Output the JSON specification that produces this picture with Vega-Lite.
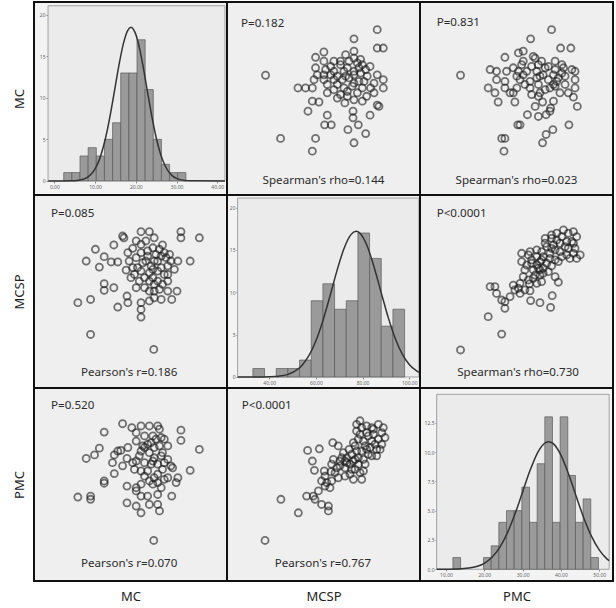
{
"$schema":"https://vega.github.io/schema/vega-lite/v6.json",
"background":"white",
"padding":{"left":12,"top":1,"right":2,"bottom":2},
"columns":3,
"spacing":0,
"bounds":"flush",
"config":{"font":"Noto Sans","view":{"stroke":null}},
"datasets":{
"pairA":[{"MC":14.2,"MCSP":94.3},{"MC":14.5,"MCSP":93.4},{"MC":18.4,"MCSP":96.6},{"MC":20.3,"MCSP":96.6},{"MC":21.4,"MCSP":93.4},{"MC":27.5,"MCSP":96.6},{"MC":27.5,"MCSP":93.4},{"MC":31.7,"MCSP":93.4},{"MC":12.2,"MCSP":89.6},{"MC":8.0,"MCSP":87.3},{"MC":17.3,"MCSP":91.7},{"MC":18.4,"MCSP":89.9},{"MC":19.5,"MCSP":91.7},{"MC":23.3,"MCSP":89.6},{"MC":21.1,"MCSP":88.1},{"MC":5.9,"MCSP":81.1},{"MC":8.9,"MCSP":77.9},{"MC":10.0,"MCSP":83.4},{"MC":11.6,"MCSP":80.6},{"MC":13.1,"MCSP":80.6},{"MC":15.4,"MCSP":85.5},{"MC":16.5,"MCSP":87.8},{"MC":17.3,"MCSP":82.9},{"MC":15.7,"MCSP":81.1},{"MC":15.0,"MCSP":76.3},{"MC":18.4,"MCSP":85.5},{"MC":19.9,"MCSP":86.4},{"MC":21.8,"MCSP":84.6},{"MC":23.0,"MCSP":83.7},{"MC":24.1,"MCSP":82.9},{"MC":23.7,"MCSP":85.5},{"MC":24.9,"MCSP":84.6},{"MC":26.8,"MCSP":81.1},{"MC":29.6,"MCSP":81.1},{"MC":17.6,"MCSP":77.6},{"MC":18.4,"MCSP":75.8},{"MC":19.5,"MCSP":81.1},{"MC":20.7,"MCSP":78.5},{"MC":21.4,"MCSP":81.1},{"MC":22.2,"MCSP":75.8},{"MC":24.5,"MCSP":78.5},{"MC":25.2,"MCSP":81.1},{"MC":26.0,"MCSP":76.7},{"MC":16.9,"MCSP":74.0},{"MC":19.2,"MCSP":72.3},{"MC":21.1,"MCSP":72.3},{"MC":22.2,"MCSP":70.5},{"MC":23.7,"MCSP":74.0},{"MC":24.5,"MCSP":70.5},{"MC":10.0,"MCSP":69.1},{"MC":10.0,"MCSP":65.6},{"MC":12.2,"MCSP":67.0},{"MC":17.3,"MCSP":67.0},{"MC":19.2,"MCSP":67.0},{"MC":20.3,"MCSP":65.2},{"MC":21.4,"MCSP":65.2},{"MC":22.6,"MCSP":66.1},{"MC":24.5,"MCSP":65.2},{"MC":26.6,"MCSP":65.2},{"MC":6.9,"MCSP":60.8},{"MC":4.0,"MCSP":59.1},{"MC":15.2,"MCSP":62.6},{"MC":13.1,"MCSP":56.8},{"MC":15.4,"MCSP":59.1},{"MC":18.4,"MCSP":59.1},{"MC":20.3,"MCSP":60.0},{"MC":21.4,"MCSP":61.7},{"MC":23.0,"MCSP":60.8},{"MC":25.4,"MCSP":60.8},{"MC":18.4,"MCSP":55.5},{"MC":18.4,"MCSP":51.5},{"MC":6.9,"MCSP":42.3},{"MC":21.3,"MCSP":34.4},{"MC":22.2,"MCSP":81.1},{"MC":23.0,"MCSP":77.6},{"MC":20.3,"MCSP":74.9},{"MC":21.4,"MCSP":68.8},{"MC":23.3,"MCSP":68.8},{"MC":18.0,"MCSP":70.5},{"MC":16.5,"MCSP":77.6},{"MC":19.9,"MCSP":83.7},{"MC":22.6,"MCSP":87.3},{"MC":24.5,"MCSP":74.0},{"MC":18.8,"MCSP":80.2},{"MC":16.1,"MCSP":72.3},{"MC":21.1,"MCSP":76.7},{"MC":20.3,"MCSP":70.5}],
"pairB":[{"MC":14.2,"PMC":48.9},{"MC":10.0,"PMC":46.3},{"MC":16.3,"PMC":47.7},{"MC":18.4,"PMC":48.2},{"MC":20.3,"PMC":48.2},{"MC":22.2,"PMC":48.2},{"MC":22.6,"PMC":47.2},{"MC":27.5,"PMC":46.9},{"MC":27.5,"PMC":43.7},{"MC":31.7,"PMC":40.9},{"MC":17.3,"PMC":46.1},{"MC":19.2,"PMC":45.1},{"MC":21.1,"PMC":45.1},{"MC":21.8,"PMC":44.1},{"MC":23.0,"PMC":44.6},{"MC":23.7,"PMC":44.1},{"MC":5.9,"PMC":38.1},{"MC":7.8,"PMC":39.2},{"MC":8.9,"PMC":41.3},{"MC":12.3,"PMC":39.2},{"MC":13.1,"PMC":40.4},{"MC":13.8,"PMC":40.6},{"MC":15.4,"PMC":41.5},{"MC":15.2,"PMC":38.1},{"MC":11.9,"PMC":36.8},{"MC":17.3,"PMC":43.5},{"MC":18.8,"PMC":42.0},{"MC":19.2,"PMC":41.5},{"MC":19.9,"PMC":42.5},{"MC":21.4,"PMC":41.5},{"MC":22.6,"PMC":42.0},{"MC":24.5,"PMC":42.0},{"MC":18.4,"PMC":40.4},{"MC":20.3,"PMC":39.9},{"MC":21.4,"PMC":38.3},{"MC":23.0,"PMC":38.9},{"MC":24.5,"PMC":37.8},{"MC":25.2,"PMC":35.8},{"MC":17.3,"PMC":37.3},{"MC":19.2,"PMC":36.8},{"MC":21.1,"PMC":37.3},{"MC":22.2,"PMC":36.3},{"MC":23.7,"PMC":36.8},{"MC":25.6,"PMC":35.2},{"MC":14.2,"PMC":35.8},{"MC":16.9,"PMC":34.7},{"MC":18.4,"PMC":34.2},{"MC":29.6,"PMC":34.4},{"MC":26.8,"PMC":32.1},{"MC":12.3,"PMC":33.4},{"MC":10.0,"PMC":31.1},{"MC":10.0,"PMC":30.4},{"MC":15.2,"PMC":29.5},{"MC":17.3,"PMC":29.0},{"MC":18.4,"PMC":30.1},{"MC":20.3,"PMC":31.1},{"MC":21.4,"PMC":32.1},{"MC":22.2,"PMC":30.6},{"MC":23.7,"PMC":31.6},{"MC":24.5,"PMC":32.1},{"MC":26.4,"PMC":30.6},{"MC":4.0,"PMC":26.1},{"MC":6.9,"PMC":26.4},{"MC":6.9,"PMC":25.4},{"MC":15.2,"PMC":24.3},{"MC":17.3,"PMC":28.0},{"MC":18.4,"PMC":26.4},{"MC":19.9,"PMC":26.4},{"MC":22.2,"PMC":26.9},{"MC":25.4,"PMC":26.4},{"MC":17.3,"PMC":23.3},{"MC":18.4,"PMC":21.2},{"MC":20.3,"PMC":23.8},{"MC":22.2,"PMC":23.8},{"MC":22.6,"PMC":21.8},{"MC":21.3,"PMC":12.6},{"MC":20.7,"PMC":36.3},{"MC":19.9,"PMC":34.2},{"MC":22.2,"PMC":33.2},{"MC":23.3,"PMC":34.7},{"MC":18.0,"PMC":38.9},{"MC":16.5,"PMC":36.8},{"MC":20.7,"PMC":43.0},{"MC":23.3,"PMC":39.9},{"MC":19.2,"PMC":32.6},{"MC":21.1,"PMC":30.1},{"MC":23.0,"PMC":29.0}],
"pairC":[{"MCSP":34.1,"PMC":12.6},{"MCSP":42.5,"PMC":25.4},{"MCSP":51.7,"PMC":21.2},{"MCSP":56.6,"PMC":40.6},{"MCSP":62.8,"PMC":41.1},{"MCSP":59.1,"PMC":37.3},{"MCSP":60.2,"PMC":34.4},{"MCSP":65.4,"PMC":34.2},{"MCSP":69.0,"PMC":34.0},{"MCSP":69.9,"PMC":43.0},{"MCSP":72.8,"PMC":42.0},{"MCSP":70.2,"PMC":37.8},{"MCSP":73.7,"PMC":37.3},{"MCSP":76.4,"PMC":37.3},{"MCSP":64.0,"PMC":31.1},{"MCSP":66.7,"PMC":30.6},{"MCSP":69.3,"PMC":31.1},{"MCSP":56.1,"PMC":26.4},{"MCSP":59.6,"PMC":26.4},{"MCSP":60.5,"PMC":25.4},{"MCSP":64.0,"PMC":23.8},{"MCSP":67.6,"PMC":23.3},{"MCSP":67.6,"PMC":21.8},{"MCSP":62.3,"PMC":28.0},{"MCSP":65.8,"PMC":29.5},{"MCSP":68.4,"PMC":29.0},{"MCSP":72.0,"PMC":35.2},{"MCSP":76.4,"PMC":35.2},{"MCSP":79.9,"PMC":34.7},{"MCSP":76.4,"PMC":32.6},{"MCSP":78.5,"PMC":40.9},{"MCSP":79.9,"PMC":39.4},{"MCSP":81.7,"PMC":37.8},{"MCSP":79.0,"PMC":36.3},{"MCSP":83.4,"PMC":36.3},{"MCSP":80.8,"PMC":31.6},{"MCSP":85.2,"PMC":31.6},{"MCSP":86.1,"PMC":34.2},{"MCSP":84.3,"PMC":33.7},{"MCSP":81.7,"PMC":42.0},{"MCSP":83.4,"PMC":44.1},{"MCSP":86.1,"PMC":43.5},{"MCSP":87.0,"PMC":42.0},{"MCSP":85.2,"PMC":40.4},{"MCSP":88.7,"PMC":39.4},{"MCSP":90.5,"PMC":38.9},{"MCSP":93.1,"PMC":38.9},{"MCSP":82.5,"PMC":46.6},{"MCSP":85.2,"PMC":47.7},{"MCSP":87.8,"PMC":48.2},{"MCSP":90.5,"PMC":47.7},{"MCSP":94.0,"PMC":48.7},{"MCSP":96.6,"PMC":47.7},{"MCSP":84.3,"PMC":45.6},{"MCSP":87.8,"PMC":46.1},{"MCSP":91.4,"PMC":45.6},{"MCSP":95.8,"PMC":46.1},{"MCSP":97.5,"PMC":44.6},{"MCSP":82.5,"PMC":48.7},{"MCSP":90.5,"PMC":43.5},{"MCSP":93.1,"PMC":40.9},{"MCSP":95.8,"PMC":42.5},{"MCSP":94.0,"PMC":44.1},{"MCSP":74.6,"PMC":38.3},{"MCSP":77.3,"PMC":38.3},{"MCSP":80.8,"PMC":37.3},{"MCSP":83.4,"PMC":38.3},{"MCSP":73.7,"PMC":35.8},{"MCSP":77.3,"PMC":36.8},{"MCSP":87.0,"PMC":36.3},{"MCSP":89.6,"PMC":41.5},{"MCSP":92.2,"PMC":42.5},{"MCSP":81.7,"PMC":34.7},{"MCSP":71.1,"PMC":33.7},{"MCSP":65.8,"PMC":32.6},{"MCSP":75.5,"PMC":39.9},{"MCSP":80.8,"PMC":43.0},{"MCSP":86.1,"PMC":37.8},{"MCSP":84.3,"PMC":49.8},{"MCSP":88.7,"PMC":45.1},{"MCSP":94.9,"PMC":40.9},{"MCSP":72.8,"PMC":32.1},{"MCSP":79.0,"PMC":33.2},{"MCSP":69.3,"PMC":36.3},{"MCSP":82.5,"PMC":40.4},{"MCSP":91.4,"PMC":47.2},{"MCSP":87.8,"PMC":40.9}],
"histMC":[{"bin_start":2.3,"bin_end":4.3,"count":1},{"bin_start":4.3,"bin_end":6.3,"count":1},{"bin_start":6.3,"bin_end":8.3,"count":3},{"bin_start":8.3,"bin_end":10.3,"count":4},{"bin_start":10.3,"bin_end":12.3,"count":3},{"bin_start":12.3,"bin_end":14.3,"count":5},{"bin_start":14.3,"bin_end":16.3,"count":7},{"bin_start":16.3,"bin_end":18.3,"count":13},{"bin_start":18.3,"bin_end":20.3,"count":13},{"bin_start":20.3,"bin_end":22.3,"count":17},{"bin_start":22.3,"bin_end":24.3,"count":11},{"bin_start":24.3,"bin_end":26.3,"count":5},{"bin_start":26.3,"bin_end":28.3,"count":2},{"bin_start":28.3,"bin_end":30.3,"count":1},{"bin_start":30.3,"bin_end":32.3,"count":1}],
"histMCSP":[{"bin_start":33,"bin_end":38,"count":1},{"bin_start":43,"bin_end":48,"count":1},{"bin_start":48,"bin_end":53,"count":1},{"bin_start":53,"bin_end":58,"count":2},{"bin_start":58,"bin_end":63,"count":9},{"bin_start":63,"bin_end":68,"count":11},{"bin_start":68,"bin_end":73,"count":8},{"bin_start":73,"bin_end":78,"count":9},{"bin_start":78,"bin_end":83,"count":17},{"bin_start":83,"bin_end":88,"count":14},{"bin_start":88,"bin_end":93,"count":6},{"bin_start":93,"bin_end":98,"count":8}],
"histPMC":[{"bin_start":11.8,"bin_end":13.8,"count":1},{"bin_start":19.8,"bin_end":21.8,"count":1},{"bin_start":21.8,"bin_end":23.8,"count":2},{"bin_start":23.8,"bin_end":25.8,"count":4},{"bin_start":25.8,"bin_end":27.8,"count":5},{"bin_start":27.8,"bin_end":29.8,"count":5},{"bin_start":29.8,"bin_end":31.8,"count":7},{"bin_start":31.8,"bin_end":33.8,"count":4},{"bin_start":33.8,"bin_end":35.8,"count":9},{"bin_start":35.8,"bin_end":37.8,"count":13},{"bin_start":37.8,"bin_end":39.8,"count":4},{"bin_start":39.8,"bin_end":41.8,"count":13},{"bin_start":41.8,"bin_end":43.8,"count":8},{"bin_start":43.8,"bin_end":45.8,"count":4},{"bin_start":45.8,"bin_end":47.8,"count":6},{"bin_start":47.8,"bin_end":49.8,"count":1}],
"curveMC":[{"x":-1.5,"y":0},{"x":2,"y":0},{"x":4,"y":0.01},{"x":6,"y":0.08},{"x":8,"y":0.4},{"x":9,"y":0.79},{"x":10,"y":1.45},{"x":11,"y":2.5},{"x":12,"y":4.05},{"x":13,"y":6.12},{"x":14,"y":8.67},{"x":15,"y":11.51},{"x":16,"y":14.3},{"x":17,"y":16.63},{"x":18,"y":18.11},{"x":18.8,"y":18.5},{"x":19.5,"y":18.2},{"x":20,"y":17.65},{"x":21,"y":15.78},{"x":22,"y":13.21},{"x":23,"y":10.36},{"x":24,"y":7.61},{"x":25,"y":5.23},{"x":26,"y":3.37},{"x":27,"y":2.03},{"x":28,"y":1.14},{"x":29,"y":0.61},{"x":30,"y":0.3},{"x":32,"y":0.06},{"x":34,"y":0.01},{"x":41.9,"y":0}],
"curveMCSP":[{"x":26.5,"y":0},{"x":35,"y":0},{"x":40,"y":0.03},{"x":44,"y":0.1},{"x":48,"y":0.31},{"x":51,"y":0.68},{"x":54,"y":1.36},{"x":57,"y":2.51},{"x":60,"y":4.27},{"x":63,"y":6.65},{"x":66,"y":9.53},{"x":69,"y":12.53},{"x":72,"y":15.14},{"x":75,"y":16.81},{"x":77.2,"y":17.2},{"x":79,"y":16.94},{"x":82,"y":15.43},{"x":85,"y":12.91},{"x":88,"y":9.93},{"x":91,"y":7.01},{"x":94,"y":4.55},{"x":97,"y":2.71},{"x":100,"y":1.48},{"x":103,"y":0.75},{"x":104.1,"y":0.56}],
"curvePMC":[{"x":7.6,"y":0},{"x":10,"y":0.005},{"x":13,"y":0.02},{"x":16,"y":0.1},{"x":18,"y":0.24},{"x":20,"y":0.51},{"x":22,"y":1.02},{"x":24,"y":1.85},{"x":26,"y":3.08},{"x":28,"y":4.71},{"x":30,"y":6.6},{"x":32,"y":8.48},{"x":34,"y":10.0},{"x":36,"y":10.8},{"x":36.8,"y":10.88},{"x":38,"y":10.71},{"x":40,"y":9.74},{"x":42,"y":8.12},{"x":44,"y":6.21},{"x":46,"y":4.36},{"x":48,"y":2.8},{"x":50,"y":1.65},{"x":52,"y":0.89},{"x":52.6,"y":0.73}]
},
"concat":[
{"width":193,"height":193,"view":{"fill":"#f3f3f3","stroke":"#111111","strokeWidth":2},
 "layer":[
  {"data":{"values":[{}]},"mark":{"type":"rect","fill":"#ebebeb","stroke":"#a0a0a0","strokeWidth":1},
   "encoding":{"x":{"datum":-1.55,"type":"quantitative","scale":{"domain":[-5,42.4],"nice":false,"zero":false},"axis":{"orient":"bottom","offset":-14,"values":[0,10,20,30,40],"format":".2f","labelFontSize":5,"labelColor":"#666","labelPadding":1,"tickSize":2,"tickColor":"#888","domain":false,"grid":false,"title":null}},"x2":{"datum":41.9},
   "y":{"datum":0,"type":"quantitative","scale":{"domain":[-1.7,21.55],"nice":false,"zero":false},"axis":{"offset":-14,"values":[0,5,10,15,20],"format":"d","labelFontSize":5,"labelColor":"#666","labelPadding":1,"tickSize":2,"tickColor":"#888","domain":false,"grid":false,"title":"MC","titleFont":"Noto Sans","titleFontSize":13,"titleFontWeight":"normal","titleColor":"#222","titleAngle":270,"titleAlign":"center","titleBaseline":"bottom","titleX":-22,"titleY":96.5}},"y2":{"datum":21.1}}},
  {"data":{"name":"histMC"},"mark":{"type":"bar","fill":"#9a9a9a","stroke":"#5a5a5a","strokeWidth":0.7},
   "encoding":{"x":{"field":"bin_start","type":"quantitative","scale":{"domain":[-5,42.4],"nice":false,"zero":false},"axis":{"orient":"bottom","offset":-14,"values":[0,10,20,30,40],"format":".2f","labelFontSize":5,"labelColor":"#666","labelPadding":1,"tickSize":2,"tickColor":"#888","domain":false,"grid":false,"title":null}},"x2":{"field":"bin_end"},
   "y":{"field":"count","type":"quantitative","scale":{"domain":[-1.7,21.55],"nice":false,"zero":false},"axis":{"offset":-14,"values":[0,5,10,15,20],"format":"d","labelFontSize":5,"labelColor":"#666","labelPadding":1,"tickSize":2,"tickColor":"#888","domain":false,"grid":false,"title":"MC","titleFont":"Noto Sans","titleFontSize":13,"titleFontWeight":"normal","titleColor":"#222","titleAngle":270,"titleAlign":"center","titleBaseline":"bottom","titleX":-22,"titleY":96.5}},"y2":{"datum":0}}},
  {"data":{"name":"curveMC"},"mark":{"type":"line","color":"#333333","strokeWidth":1.5,"interpolate":"monotone"},
   "encoding":{"x":{"field":"x","type":"quantitative","scale":{"domain":[-5,42.4],"nice":false,"zero":false},"axis":{"orient":"bottom","offset":-14,"values":[0,10,20,30,40],"format":".2f","labelFontSize":5,"labelColor":"#666","labelPadding":1,"tickSize":2,"tickColor":"#888","domain":false,"grid":false,"title":null}},
   "y":{"field":"y","type":"quantitative","scale":{"domain":[-1.7,21.55],"nice":false,"zero":false},"axis":{"offset":-14,"values":[0,5,10,15,20],"format":"d","labelFontSize":5,"labelColor":"#666","labelPadding":1,"tickSize":2,"tickColor":"#888","domain":false,"grid":false,"title":"MC","titleFont":"Noto Sans","titleFontSize":13,"titleFontWeight":"normal","titleColor":"#222","titleAngle":270,"titleAlign":"center","titleBaseline":"bottom","titleX":-22,"titleY":96.5}}}}
 ]},
{"width":193,"height":193,"view":{"fill":"#efefef","stroke":"#111111","strokeWidth":2},
 "layer":[
  {"data":{"name":"pairA"},"mark":{"type":"point","shape":"circle","filled":false,"size":50,"strokeWidth":1.8,"color":"#1a1a1a","strokeOpacity":0.85},
   "encoding":{"x":{"field":"MCSP","type":"quantitative","scale":{"domain":[14,116],"nice":false,"zero":false},"axis":null},"y":{"field":"MC","type":"quantitative","scale":{"domain":[-6,38],"nice":false,"zero":false},"axis":null}}},
  {"data":{"values":[{}]},"mark":{"type":"text","text":"P=0.182","font":"Noto Sans","fontSize":11.6,"color":"#2b2b2b","align":"left","baseline":"middle"},
   "encoding":{"x":{"datum":21.4,"type":"quantitative","scale":{"domain":[14,116],"nice":false,"zero":false},"axis":null},"y":{"datum":33.05,"type":"quantitative","scale":{"domain":[-6,38],"nice":false,"zero":false},"axis":null}}},
  {"data":{"values":[{}]},"mark":{"type":"text","text":"Spearman's rho=0.144","font":"Noto Sans","fontSize":11.6,"color":"#2b2b2b","align":"center","baseline":"middle"},
   "encoding":{"x":{"datum":65,"type":"quantitative","scale":{"domain":[14,116],"nice":false,"zero":false},"axis":null},"y":{"datum":-2.8,"type":"quantitative","scale":{"domain":[-6,38],"nice":false,"zero":false},"axis":null}}}
 ]},
{"width":193,"height":193,"view":{"fill":"#efefef","stroke":"#111111","strokeWidth":2},
 "layer":[
  {"data":{"name":"pairB"},"mark":{"type":"point","shape":"circle","filled":false,"size":50,"strokeWidth":1.8,"color":"#1a1a1a","strokeOpacity":0.85},
   "encoding":{"x":{"field":"PMC","type":"quantitative","scale":{"domain":[0,60],"nice":false,"zero":false},"axis":null},"y":{"field":"MC","type":"quantitative","scale":{"domain":[-6,38],"nice":false,"zero":false},"axis":null}}},
  {"data":{"values":[{}]},"mark":{"type":"text","text":"P=0.831","font":"Noto Sans","fontSize":11.6,"color":"#2b2b2b","align":"left","baseline":"middle"},
   "encoding":{"x":{"datum":5.19,"type":"quantitative","scale":{"domain":[0,60],"nice":false,"zero":false},"axis":null},"y":{"datum":33.1,"type":"quantitative","scale":{"domain":[-6,38],"nice":false,"zero":false},"axis":null}}},
  {"data":{"values":[{}]},"mark":{"type":"text","text":"Spearman's rho=0.023","font":"Noto Sans","fontSize":11.6,"color":"#2b2b2b","align":"center","baseline":"middle"},
   "encoding":{"x":{"datum":30,"type":"quantitative","scale":{"domain":[0,60],"nice":false,"zero":false},"axis":null},"y":{"datum":-2.8,"type":"quantitative","scale":{"domain":[-6,38],"nice":false,"zero":false},"axis":null}}}
 ]},
{"width":193,"height":193,"view":{"fill":"#efefef","stroke":"#111111","strokeWidth":2},
 "layer":[
  {"data":{"name":"pairA"},"mark":{"type":"point","shape":"circle","filled":false,"size":50,"strokeWidth":1.8,"color":"#1a1a1a","strokeOpacity":0.85},
   "encoding":{"x":{"field":"MC","type":"quantitative","scale":{"domain":[-6,38],"nice":false,"zero":false},"axis":null},"y":{"field":"MCSP","type":"quantitative","scale":{"domain":[14,116],"nice":false,"zero":false},"axis":{"title":"MCSP","labels":false,"ticks":false,"domain":false,"grid":false,"titleFont":"Noto Sans","titleFontSize":13,"titleFontWeight":"normal","titleColor":"#222","titleAngle":270,"titleAlign":"center","titleBaseline":"bottom","titleX":-8,"titleY":96.5}}}},
  {"data":{"values":[{}]},"mark":{"type":"text","text":"P=0.085","font":"Noto Sans","fontSize":11.6,"color":"#2b2b2b","align":"left","baseline":"middle"},
   "encoding":{"x":{"datum":-2.12,"type":"quantitative","scale":{"domain":[-6,38],"nice":false,"zero":false},"axis":null},"y":{"datum":105.8,"type":"quantitative","scale":{"domain":[14,116],"nice":false,"zero":false},"axis":{"title":"MCSP","labels":false,"ticks":false,"domain":false,"grid":false,"titleFont":"Noto Sans","titleFontSize":13,"titleFontWeight":"normal","titleColor":"#222","titleAngle":270,"titleAlign":"center","titleBaseline":"bottom","titleX":-8,"titleY":96.5}}}},
  {"data":{"values":[{}]},"mark":{"type":"text","text":"Pearson's r=0.186","font":"Noto Sans","fontSize":11.6,"color":"#2b2b2b","align":"center","baseline":"middle"},
   "encoding":{"x":{"datum":15.7,"type":"quantitative","scale":{"domain":[-6,38],"nice":false,"zero":false},"axis":null},"y":{"datum":22.1,"type":"quantitative","scale":{"domain":[14,116],"nice":false,"zero":false},"axis":{"title":"MCSP","labels":false,"ticks":false,"domain":false,"grid":false,"titleFont":"Noto Sans","titleFontSize":13,"titleFontWeight":"normal","titleColor":"#222","titleAngle":270,"titleAlign":"center","titleBaseline":"bottom","titleX":-8,"titleY":96.5}}}}
 ]},
{"width":193,"height":193,"view":{"fill":"#f3f3f3","stroke":"#111111","strokeWidth":2},
 "layer":[
  {"data":{"values":[{}]},"mark":{"type":"rect","fill":"#ebebeb","stroke":"#a0a0a0","strokeWidth":1},
   "encoding":{"x":{"datum":26.45,"type":"quantitative","scale":{"domain":[21.9,104.6],"nice":false,"zero":false},"axis":{"orient":"bottom","offset":-11,"values":[40,60,80,100],"format":".2f","labelFontSize":5,"labelColor":"#666","labelPadding":1,"tickSize":2,"tickColor":"#888","domain":false,"grid":false,"title":null}},"x2":{"datum":104.1},
   "y":{"datum":0,"type":"quantitative","scale":{"domain":[-1.3,21.49],"nice":false,"zero":false},"axis":{"offset":-11,"values":[0,5,10,15,20],"format":"d","labelFontSize":5,"labelColor":"#666","labelPadding":1,"tickSize":2,"tickColor":"#888","domain":false,"grid":false,"title":null}},"y2":{"datum":21.13}}},
  {"data":{"name":"histMCSP"},"mark":{"type":"bar","fill":"#9a9a9a","stroke":"#5a5a5a","strokeWidth":0.7},
   "encoding":{"x":{"field":"bin_start","type":"quantitative","scale":{"domain":[21.9,104.6],"nice":false,"zero":false},"axis":{"orient":"bottom","offset":-11,"values":[40,60,80,100],"format":".2f","labelFontSize":5,"labelColor":"#666","labelPadding":1,"tickSize":2,"tickColor":"#888","domain":false,"grid":false,"title":null}},"x2":{"field":"bin_end"},
   "y":{"field":"count","type":"quantitative","scale":{"domain":[-1.3,21.49],"nice":false,"zero":false},"axis":{"offset":-11,"values":[0,5,10,15,20],"format":"d","labelFontSize":5,"labelColor":"#666","labelPadding":1,"tickSize":2,"tickColor":"#888","domain":false,"grid":false,"title":null}},"y2":{"datum":0}}},
  {"data":{"name":"curveMCSP"},"mark":{"type":"line","color":"#333333","strokeWidth":1.5,"interpolate":"monotone"},
   "encoding":{"x":{"field":"x","type":"quantitative","scale":{"domain":[21.9,104.6],"nice":false,"zero":false},"axis":{"orient":"bottom","offset":-11,"values":[40,60,80,100],"format":".2f","labelFontSize":5,"labelColor":"#666","labelPadding":1,"tickSize":2,"tickColor":"#888","domain":false,"grid":false,"title":null}},
   "y":{"field":"y","type":"quantitative","scale":{"domain":[-1.3,21.49],"nice":false,"zero":false},"axis":{"offset":-11,"values":[0,5,10,15,20],"format":"d","labelFontSize":5,"labelColor":"#666","labelPadding":1,"tickSize":2,"tickColor":"#888","domain":false,"grid":false,"title":null}}}}
 ]},
{"width":193,"height":193,"view":{"fill":"#efefef","stroke":"#111111","strokeWidth":2},
 "layer":[
  {"data":{"name":"pairC"},"mark":{"type":"point","shape":"circle","filled":false,"size":50,"strokeWidth":1.8,"color":"#1a1a1a","strokeOpacity":0.85},
   "encoding":{"x":{"field":"PMC","type":"quantitative","scale":{"domain":[0,60],"nice":false,"zero":false},"axis":null},"y":{"field":"MCSP","type":"quantitative","scale":{"domain":[14,116],"nice":false,"zero":false},"axis":null}}},
  {"data":{"values":[{}]},"mark":{"type":"text","text":"P<0.0001","font":"Noto Sans","fontSize":11.6,"color":"#2b2b2b","align":"left","baseline":"middle"},
   "encoding":{"x":{"datum":5.19,"type":"quantitative","scale":{"domain":[0,60],"nice":false,"zero":false},"axis":null},"y":{"datum":105.8,"type":"quantitative","scale":{"domain":[14,116],"nice":false,"zero":false},"axis":null}}},
  {"data":{"values":[{}]},"mark":{"type":"text","text":"Spearman's rho=0.730","font":"Noto Sans","fontSize":11.6,"color":"#2b2b2b","align":"center","baseline":"middle"},
   "encoding":{"x":{"datum":30.5,"type":"quantitative","scale":{"domain":[0,60],"nice":false,"zero":false},"axis":null},"y":{"datum":22.1,"type":"quantitative","scale":{"domain":[14,116],"nice":false,"zero":false},"axis":null}}}
 ]},
{"width":193,"height":193,"view":{"fill":"#efefef","stroke":"#111111","strokeWidth":2},
 "layer":[
  {"data":{"name":"pairB"},"mark":{"type":"point","shape":"circle","filled":false,"size":50,"strokeWidth":1.8,"color":"#1a1a1a","strokeOpacity":0.85},
   "encoding":{"x":{"field":"MC","type":"quantitative","scale":{"domain":[-6,38],"nice":false,"zero":false},"axis":{"title":"MC","labels":false,"ticks":false,"domain":false,"grid":false,"titleFont":"Noto Sans","titleFontSize":13,"titleFontWeight":"normal","titleColor":"#222","titleAngle":0,"titleAlign":"center","titleBaseline":"top","titleX":96.5,"titleY":9.5}},"y":{"field":"PMC","type":"quantitative","scale":{"domain":[0,60],"nice":false,"zero":false},"axis":{"title":"PMC","labels":false,"ticks":false,"domain":false,"grid":false,"titleFont":"Noto Sans","titleFontSize":13,"titleFontWeight":"normal","titleColor":"#222","titleAngle":270,"titleAlign":"center","titleBaseline":"bottom","titleX":-8,"titleY":96.5}}}},
  {"data":{"values":[{}]},"mark":{"type":"text","text":"P=0.520","font":"Noto Sans","fontSize":11.6,"color":"#2b2b2b","align":"left","baseline":"middle"},
   "encoding":{"x":{"datum":-2.12,"type":"quantitative","scale":{"domain":[-6,38],"nice":false,"zero":false},"axis":{"title":"MC","labels":false,"ticks":false,"domain":false,"grid":false,"titleFont":"Noto Sans","titleFontSize":13,"titleFontWeight":"normal","titleColor":"#222","titleAngle":0,"titleAlign":"center","titleBaseline":"top","titleX":96.5,"titleY":9.5}},"y":{"datum":54.4,"type":"quantitative","scale":{"domain":[0,60],"nice":false,"zero":false},"axis":{"title":"PMC","labels":false,"ticks":false,"domain":false,"grid":false,"titleFont":"Noto Sans","titleFontSize":13,"titleFontWeight":"normal","titleColor":"#222","titleAngle":270,"titleAlign":"center","titleBaseline":"bottom","titleX":-8,"titleY":96.5}}}},
  {"data":{"values":[{}]},"mark":{"type":"text","text":"Pearson's r=0.070","font":"Noto Sans","fontSize":11.6,"color":"#2b2b2b","align":"center","baseline":"middle"},
   "encoding":{"x":{"datum":15.7,"type":"quantitative","scale":{"domain":[-6,38],"nice":false,"zero":false},"axis":{"title":"MC","labels":false,"ticks":false,"domain":false,"grid":false,"titleFont":"Noto Sans","titleFontSize":13,"titleFontWeight":"normal","titleColor":"#222","titleAngle":0,"titleAlign":"center","titleBaseline":"top","titleX":96.5,"titleY":9.5}},"y":{"datum":5.17,"type":"quantitative","scale":{"domain":[0,60],"nice":false,"zero":false},"axis":{"title":"PMC","labels":false,"ticks":false,"domain":false,"grid":false,"titleFont":"Noto Sans","titleFontSize":13,"titleFontWeight":"normal","titleColor":"#222","titleAngle":270,"titleAlign":"center","titleBaseline":"bottom","titleX":-8,"titleY":96.5}}}}
 ]},
{"width":193,"height":193,"view":{"fill":"#efefef","stroke":"#111111","strokeWidth":2},
 "layer":[
  {"data":{"name":"pairC"},"mark":{"type":"point","shape":"circle","filled":false,"size":50,"strokeWidth":1.8,"color":"#1a1a1a","strokeOpacity":0.85},
   "encoding":{"x":{"field":"MCSP","type":"quantitative","scale":{"domain":[14,116],"nice":false,"zero":false},"axis":{"title":"MCSP","labels":false,"ticks":false,"domain":false,"grid":false,"titleFont":"Noto Sans","titleFontSize":13,"titleFontWeight":"normal","titleColor":"#222","titleAngle":0,"titleAlign":"center","titleBaseline":"top","titleX":96.5,"titleY":9.5}},"y":{"field":"PMC","type":"quantitative","scale":{"domain":[0,60],"nice":false,"zero":false},"axis":null}}},
  {"data":{"values":[{}]},"mark":{"type":"text","text":"P<0.0001","font":"Noto Sans","fontSize":11.6,"color":"#2b2b2b","align":"left","baseline":"middle"},
   "encoding":{"x":{"datum":21.8,"type":"quantitative","scale":{"domain":[14,116],"nice":false,"zero":false},"axis":{"title":"MCSP","labels":false,"ticks":false,"domain":false,"grid":false,"titleFont":"Noto Sans","titleFontSize":13,"titleFontWeight":"normal","titleColor":"#222","titleAngle":0,"titleAlign":"center","titleBaseline":"top","titleX":96.5,"titleY":9.5}},"y":{"datum":54.4,"type":"quantitative","scale":{"domain":[0,60],"nice":false,"zero":false},"axis":null}}},
  {"data":{"values":[{}]},"mark":{"type":"text","text":"Pearson's r=0.767","font":"Noto Sans","fontSize":11.6,"color":"#2b2b2b","align":"center","baseline":"middle"},
   "encoding":{"x":{"datum":64.7,"type":"quantitative","scale":{"domain":[14,116],"nice":false,"zero":false},"axis":{"title":"MCSP","labels":false,"ticks":false,"domain":false,"grid":false,"titleFont":"Noto Sans","titleFontSize":13,"titleFontWeight":"normal","titleColor":"#222","titleAngle":0,"titleAlign":"center","titleBaseline":"top","titleX":96.5,"titleY":9.5}},"y":{"datum":5.17,"type":"quantitative","scale":{"domain":[0,60],"nice":false,"zero":false},"axis":null}}}
 ]},
{"width":193,"height":193,"view":{"fill":"#f3f3f3","stroke":"#111111","strokeWidth":2},
 "layer":[
  {"data":{"values":[{}]},"mark":{"type":"rect","fill":"#ebebeb","stroke":"#a0a0a0","strokeWidth":1},
   "encoding":{"x":{"datum":7.57,"type":"quantitative","scale":{"domain":[3.21,53.6],"nice":false,"zero":false},"axis":{"orient":"bottom","offset":-12,"values":[10,20,30,40,50],"format":".2f","labelFontSize":5,"labelColor":"#666","labelPadding":1,"tickSize":2,"tickColor":"#888","domain":false,"grid":false,"title":"PMC","titleFont":"Noto Sans","titleFontSize":13,"titleFontWeight":"normal","titleColor":"#222","titleAngle":0,"titleAlign":"center","titleBaseline":"top","titleX":96.5,"titleY":21.5}},"x2":{"datum":52.6},
   "y":{"datum":0,"type":"quantitative","scale":{"domain":[-1.0,15.46],"nice":false,"zero":false},"axis":{"offset":-17,"values":[0,2.5,5,7.5,10,12.5],"format":".1f","labelFontSize":5,"labelColor":"#666","labelPadding":1,"tickSize":2,"tickColor":"#888","domain":false,"grid":false,"title":null}},"y2":{"datum":14.92}}},
  {"data":{"name":"histPMC"},"mark":{"type":"bar","fill":"#9a9a9a","stroke":"#5a5a5a","strokeWidth":0.7},
   "encoding":{"x":{"field":"bin_start","type":"quantitative","scale":{"domain":[3.21,53.6],"nice":false,"zero":false},"axis":{"orient":"bottom","offset":-12,"values":[10,20,30,40,50],"format":".2f","labelFontSize":5,"labelColor":"#666","labelPadding":1,"tickSize":2,"tickColor":"#888","domain":false,"grid":false,"title":"PMC","titleFont":"Noto Sans","titleFontSize":13,"titleFontWeight":"normal","titleColor":"#222","titleAngle":0,"titleAlign":"center","titleBaseline":"top","titleX":96.5,"titleY":21.5}},"x2":{"field":"bin_end"},
   "y":{"field":"count","type":"quantitative","scale":{"domain":[-1.0,15.46],"nice":false,"zero":false},"axis":{"offset":-17,"values":[0,2.5,5,7.5,10,12.5],"format":".1f","labelFontSize":5,"labelColor":"#666","labelPadding":1,"tickSize":2,"tickColor":"#888","domain":false,"grid":false,"title":null}},"y2":{"datum":0}}},
  {"data":{"name":"curvePMC"},"mark":{"type":"line","color":"#333333","strokeWidth":1.5,"interpolate":"monotone"},
   "encoding":{"x":{"field":"x","type":"quantitative","scale":{"domain":[3.21,53.6],"nice":false,"zero":false},"axis":{"orient":"bottom","offset":-12,"values":[10,20,30,40,50],"format":".2f","labelFontSize":5,"labelColor":"#666","labelPadding":1,"tickSize":2,"tickColor":"#888","domain":false,"grid":false,"title":"PMC","titleFont":"Noto Sans","titleFontSize":13,"titleFontWeight":"normal","titleColor":"#222","titleAngle":0,"titleAlign":"center","titleBaseline":"top","titleX":96.5,"titleY":21.5}},
   "y":{"field":"y","type":"quantitative","scale":{"domain":[-1.0,15.46],"nice":false,"zero":false},"axis":{"offset":-17,"values":[0,2.5,5,7.5,10,12.5],"format":".1f","labelFontSize":5,"labelColor":"#666","labelPadding":1,"tickSize":2,"tickColor":"#888","domain":false,"grid":false,"title":null}}}}
 ]}
]
}
